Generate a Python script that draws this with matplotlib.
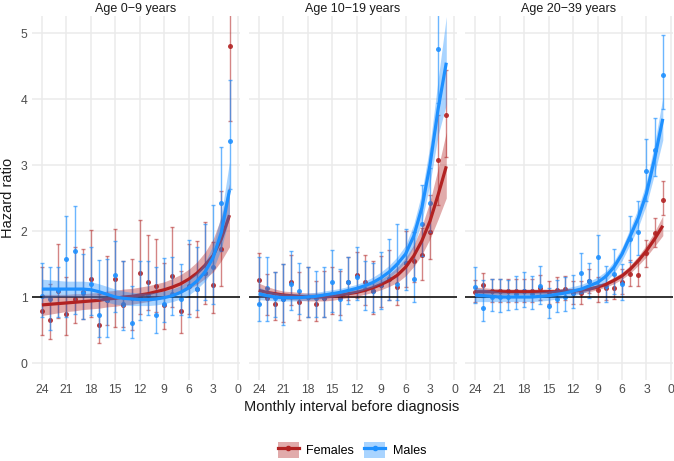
import numpy as np
import matplotlib.pyplot as plt
from matplotlib.patches import Patch
from matplotlib.lines import Line2D

plt.rcParams['font.family'] = ['Liberation Sans', 'DejaVu Sans']

months = np.arange(24, 0, -1)
panel_titles = ['Age 0\u22129 years', 'Age 10\u221219 years', 'Age 20\u221239 years']
xticks = [24, 21, 18, 15, 12, 9, 6, 3, 0]
yticks = [0, 1, 2, 3, 4, 5]

# ---- Age 0-9 ----
f1_hr = [0.79, 0.65, 1.09, 0.74, 0.97, 1.07, 1.27, 0.57, 0.95, 1.27, 0.88, 0.98, 1.37, 1.23, 1.16, 0.88, 1.32, 0.79, 1.16, 1.12, 1.37, 1.18, 1.73, 4.81]
f1_lo = [0.42, 0.36, 0.68, 0.42, 0.60, 0.66, 0.70, 0.30, 0.58, 0.55, 0.55, 0.50, 0.75, 0.80, 0.78, 0.52, 0.85, 0.46, 0.75, 0.70, 0.90, 0.76, 1.16, 3.67]
f1_hi = [1.45, 1.20, 1.80, 1.30, 1.75, 1.72, 2.02, 1.05, 1.62, 2.03, 1.55, 1.57, 2.17, 1.94, 1.88, 1.52, 2.06, 1.40, 1.80, 1.85, 2.13, 1.84, 2.60, 6.20]
b1_hr = [1.01, 0.97, 1.10, 1.58, 1.69, 1.06, 1.20, 0.73, 0.96, 1.33, 0.90, 0.61, 1.00, 1.03, 0.73, 0.90, 1.05, 0.97, 1.16, 1.12, 1.37, 1.45, 2.42, 3.36]
b1_lo = [0.70, 0.50, 0.70, 0.70, 0.75, 0.66, 0.72, 0.40, 0.40, 0.78, 0.50, 0.38, 0.65, 0.73, 0.46, 0.62, 0.72, 0.72, 0.70, 0.80, 0.95, 0.90, 1.70, 2.63]
b1_hi = [1.51, 1.46, 1.45, 2.23, 2.38, 1.65, 1.76, 1.56, 1.58, 1.85, 1.55, 1.17, 1.55, 1.54, 1.46, 1.59, 1.60, 1.50, 1.87, 1.75, 2.10, 2.40, 3.28, 4.29]
f1_fit = [0.88, 0.89, 0.90, 0.91, 0.92, 0.93, 0.94, 0.95, 0.97, 0.98, 1.00, 1.01, 1.03, 1.05, 1.08, 1.11, 1.15, 1.20, 1.27, 1.36, 1.48, 1.63, 1.88, 2.24]
f1_flo = [0.72, 0.74, 0.76, 0.78, 0.79, 0.81, 0.82, 0.83, 0.85, 0.86, 0.88, 0.89, 0.91, 0.93, 0.96, 0.99, 1.02, 1.06, 1.12, 1.19, 1.28, 1.38, 1.55, 1.76]
f1_fhi = [1.04, 1.04, 1.04, 1.04, 1.05, 1.05, 1.06, 1.07, 1.09, 1.10, 1.12, 1.13, 1.15, 1.17, 1.20, 1.23, 1.28, 1.34, 1.42, 1.53, 1.68, 1.88, 2.21, 2.72]
b1_fit = [1.12, 1.12, 1.12, 1.12, 1.12, 1.12, 1.11, 1.08, 1.04, 1.00, 0.98, 0.97, 0.96, 0.96, 0.97, 0.99, 1.02, 1.07, 1.14, 1.24, 1.38, 1.60, 1.98, 2.62]
b1_flo = [0.98, 0.99, 1.00, 1.00, 1.00, 1.00, 0.99, 0.96, 0.92, 0.89, 0.88, 0.87, 0.87, 0.87, 0.88, 0.90, 0.93, 0.97, 1.03, 1.12, 1.24, 1.42, 1.73, 2.22]
b1_fhi = [1.27, 1.26, 1.25, 1.24, 1.24, 1.24, 1.23, 1.20, 1.16, 1.12, 1.09, 1.07, 1.06, 1.06, 1.07, 1.09, 1.12, 1.17, 1.26, 1.37, 1.53, 1.79, 2.25, 3.05]

# ---- Age 10-19 ----
f2_hr = [1.26, 0.99, 0.90, 0.97, 1.22, 0.93, 1.00, 0.89, 0.98, 1.05, 1.00, 1.22, 1.33, 1.23, 1.09, 1.18, 1.28, 1.15, 1.51, 1.54, 1.63, 1.99, 3.08, 3.76]
f2_lo = [0.90, 0.73, 0.65, 0.62, 0.88, 0.65, 0.70, 0.64, 0.70, 0.75, 0.72, 0.95, 0.98, 0.88, 0.75, 0.85, 0.95, 0.88, 1.15, 1.22, 1.26, 1.57, 2.40, 3.12]
f2_hi = [1.66, 1.35, 1.38, 1.50, 1.63, 1.38, 1.45, 1.25, 1.40, 1.45, 1.40, 1.60, 1.68, 1.63, 1.55, 1.62, 1.71, 1.50, 2.00, 1.99, 2.05, 2.54, 3.75, 4.44]
b2_hr = [0.90, 1.13, 0.99, 0.97, 1.19, 1.09, 1.00, 0.98, 0.98, 1.23, 0.97, 1.22, 1.30, 1.12, 1.09, 1.18, 1.28, 1.20, 1.51, 1.27, 2.10, 2.43, 4.76, 6.20]
b2_lo = [0.63, 0.63, 0.70, 0.58, 0.80, 0.75, 0.70, 0.70, 0.70, 0.78, 0.65, 0.90, 0.95, 0.80, 0.78, 0.82, 0.95, 0.95, 1.10, 0.93, 1.62, 1.99, 3.94, 5.40]
b2_hi = [1.60, 1.61, 1.38, 1.50, 1.69, 1.52, 1.45, 1.40, 1.45, 1.71, 1.42, 1.60, 1.76, 1.55, 1.52, 1.68, 1.88, 2.11, 2.03, 1.99, 2.70, 2.95, 6.00, 7.10]
f2_fit = [1.10, 1.07, 1.05, 1.03, 1.02, 1.01, 1.00, 1.00, 1.00, 1.01, 1.03, 1.05, 1.07, 1.10, 1.14, 1.19, 1.25, 1.33, 1.45, 1.62, 1.85, 2.15, 2.55, 2.98]
f2_flo = [1.00, 0.99, 0.98, 0.97, 0.96, 0.95, 0.94, 0.94, 0.94, 0.95, 0.97, 0.99, 1.01, 1.04, 1.07, 1.11, 1.16, 1.22, 1.32, 1.46, 1.64, 1.88, 2.18, 2.50]
f2_fhi = [1.21, 1.16, 1.12, 1.09, 1.08, 1.07, 1.06, 1.06, 1.06, 1.07, 1.09, 1.11, 1.13, 1.16, 1.21, 1.27, 1.35, 1.45, 1.59, 1.79, 2.07, 2.45, 2.95, 3.50]
b2_fit = [1.05, 1.02, 1.00, 0.99, 0.99, 0.99, 1.00, 1.01, 1.03, 1.05, 1.07, 1.10, 1.13, 1.17, 1.22, 1.29, 1.38, 1.50, 1.65, 1.92, 2.35, 3.00, 3.85, 4.55]
b2_flo = [0.96, 0.95, 0.94, 0.94, 0.94, 0.94, 0.95, 0.96, 0.98, 1.00, 1.02, 1.04, 1.07, 1.11, 1.15, 1.21, 1.29, 1.40, 1.53, 1.76, 2.14, 2.72, 3.45, 3.92]
b2_fhi = [1.15, 1.10, 1.07, 1.05, 1.05, 1.05, 1.06, 1.07, 1.09, 1.11, 1.13, 1.16, 1.19, 1.24, 1.30, 1.38, 1.48, 1.61, 1.78, 2.10, 2.58, 3.30, 4.30, 5.25]

# ---- Age 20-39 ----
f3_hr = [1.08, 1.18, 1.09, 1.09, 1.09, 1.09, 1.09, 1.09, 1.14, 1.07, 1.11, 1.12, 1.06, 1.06, 1.25, 1.11, 1.14, 1.14, 1.22, 1.35, 1.34, 1.67, 1.97, 2.47]
f3_lo = [0.92, 1.00, 0.92, 0.92, 0.92, 0.92, 0.92, 0.92, 0.96, 0.90, 0.93, 0.95, 0.90, 0.90, 1.06, 0.93, 0.96, 0.97, 1.04, 1.16, 1.16, 1.45, 1.76, 2.24]
f3_hi = [1.26, 1.37, 1.27, 1.28, 1.28, 1.28, 1.28, 1.28, 1.34, 1.25, 1.30, 1.32, 1.25, 1.25, 1.43, 1.30, 1.34, 1.34, 1.43, 1.56, 1.56, 1.86, 2.20, 2.75]
b3_hr = [1.15, 0.84, 1.00, 1.00, 1.00, 1.04, 1.09, 1.04, 1.16, 0.87, 0.97, 1.00, 1.06, 1.37, 1.25, 1.60, 1.16, 1.35, 1.19, 1.88, 1.98, 2.91, 3.23, 4.36]
b3_lo = [0.91, 0.63, 0.79, 0.78, 0.80, 0.82, 0.85, 0.82, 0.90, 0.68, 0.77, 0.79, 0.84, 1.06, 0.98, 1.20, 0.92, 1.05, 0.95, 1.53, 1.64, 2.45, 2.83, 3.85]
b3_hi = [1.45, 1.26, 1.27, 1.28, 1.26, 1.32, 1.38, 1.32, 1.47, 1.13, 1.26, 1.30, 1.33, 1.67, 1.52, 1.94, 1.47, 1.72, 1.50, 2.22, 2.45, 3.39, 3.71, 4.97]
f3_fit = [1.08, 1.08, 1.08, 1.08, 1.08, 1.08, 1.08, 1.08, 1.08, 1.08, 1.08, 1.09, 1.09, 1.10, 1.12, 1.15, 1.19, 1.25, 1.32, 1.42, 1.55, 1.70, 1.88, 2.08]
f3_flo = [1.01, 1.02, 1.03, 1.03, 1.04, 1.04, 1.04, 1.04, 1.04, 1.04, 1.04, 1.05, 1.05, 1.06, 1.08, 1.11, 1.15, 1.20, 1.27, 1.36, 1.48, 1.61, 1.77, 1.93]
f3_fhi = [1.15, 1.14, 1.13, 1.13, 1.12, 1.12, 1.12, 1.12, 1.12, 1.12, 1.12, 1.13, 1.13, 1.14, 1.16, 1.19, 1.23, 1.30, 1.37, 1.48, 1.62, 1.79, 1.99, 2.23]
b3_fit = [1.03, 1.02, 1.01, 1.00, 1.00, 1.00, 1.00, 1.00, 1.01, 1.02, 1.04, 1.06, 1.09, 1.12, 1.17, 1.22, 1.31, 1.45, 1.65, 1.92, 2.20, 2.57, 3.10, 3.70]
b3_flo = [0.93, 0.93, 0.93, 0.93, 0.93, 0.93, 0.93, 0.93, 0.94, 0.95, 0.97, 0.99, 1.02, 1.05, 1.10, 1.15, 1.23, 1.36, 1.55, 1.80, 2.06, 2.40, 2.87, 3.38]
b3_fhi = [1.14, 1.12, 1.10, 1.08, 1.07, 1.07, 1.07, 1.07, 1.08, 1.09, 1.11, 1.13, 1.16, 1.19, 1.24, 1.30, 1.39, 1.54, 1.75, 2.04, 2.35, 2.75, 3.33, 4.02]

red = '#B22222'
blue = '#1E90FF'

panels = [
    ((f1_hr, f1_lo, f1_hi, f1_fit, f1_flo, f1_fhi), (b1_hr, b1_lo, b1_hi, b1_fit, b1_flo, b1_fhi)),
    ((f2_hr, f2_lo, f2_hi, f2_fit, f2_flo, f2_fhi), (b2_hr, b2_lo, b2_hi, b2_fit, b2_flo, b2_fhi)),
    ((f3_hr, f3_lo, f3_hi, f3_fit, f3_flo, f3_fhi), (b3_hr, b3_lo, b3_hi, b3_fit, b3_flo, b3_fhi)),
]

W, H = 674, 461
fig = plt.figure(figsize=(W / 100, H / 100), dpi=100)

lefts = [31.7, 248.5, 465]
pw = 208
top, bottom = 16.5, 379.5

for i, (fem, mal) in enumerate(panels):
    ax = fig.add_axes([lefts[i] / W, (H - bottom) / H, pw / W, (bottom - top) / H])
    ax.set_xlim(25.25, -0.25)
    ax.set_ylim(-0.25, 5.25)
    ax.set_xticks(xticks)
    ax.set_yticks(yticks)
    ax.grid(True, color='#EBEBEB', lw=1.1)
    ax.set_axisbelow(True)
    for s in ax.spines.values():
        s.set_visible(False)
    ax.tick_params(length=0, labelsize=8.8, labelcolor='#4D4D4D', pad=3)
    if i > 0:
        ax.set_yticklabels([])
    ax.set_title(panel_titles[i], fontsize=9, color='#1A1A1A', pad=3)

    for (hr, lo, hi, fit, flo, fhi), col, ea in ((fem, red, 0.55), (mal, blue, 0.65)):
        hr = np.array(hr)
        err = [hr - np.array(lo), np.array(hi) - hr]
        ax.errorbar(months, hr, yerr=err, fmt='none', ecolor=col, alpha=ea,
                    elinewidth=1.0, capsize=1.6, capthick=1.0)
        ax.plot(months, hr, 'o', color=col, ms=3.6, mec='none', alpha=0.9)

    ax.axhline(1, color='black', lw=1.1, zorder=2.5)

    for (hr, lo, hi, fit, flo, fhi), col in ((fem, red), (mal, blue)):
        ax.fill_between(months, flo, fhi, color=col, alpha=0.38, lw=0, zorder=3)
        ax.plot(months, fit, color=col, lw=2.3, zorder=3, solid_capstyle='butt')

fig.text(8 / W, 1 - 198 / H, 'Hazard ratio', rotation=90, ha='center', va='center',
         fontsize=10.5, color='#1A1A1A')
fig.text(352 / W, 1 - 407 / H, 'Monthly interval before diagnosis', ha='center',
         va='center', fontsize=10.5, color='#1A1A1A')

handles = [
    (Patch(facecolor=red, alpha=0.38, lw=0), Line2D([], [], color=red, lw=2.3, marker='o', ms=3)),
    (Patch(facecolor=blue, alpha=0.38, lw=0), Line2D([], [], color=blue, lw=2.3, marker='o', ms=3)),
]
fig.legend(handles, ['Females', 'Males'], loc='center', bbox_to_anchor=(352 / W, 1 - 450 / H),
           ncol=2, frameon=False, fontsize=9, handlelength=1.7, handleheight=1.6,
           columnspacing=0.8, handletextpad=0.6, borderaxespad=0)

fig.savefig('out.png', dpi=100)
